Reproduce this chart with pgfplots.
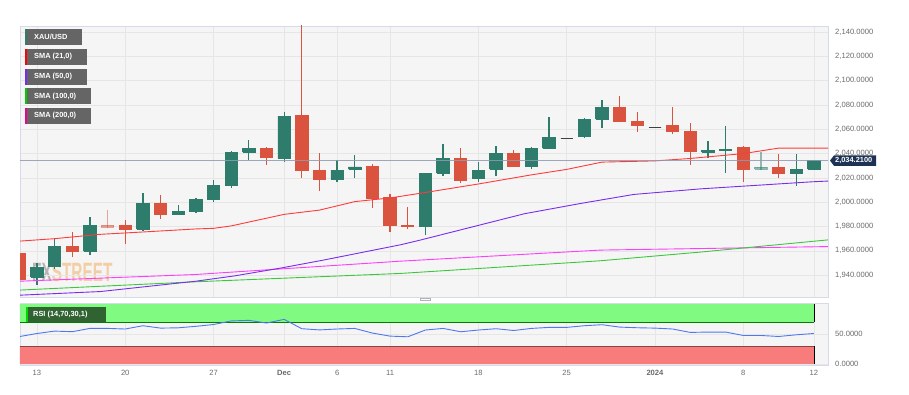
\documentclass[border=0pt]{standalone}
\usepackage{fontspec}
\setmainfont{Liberation Sans}
\usepackage{graphicx}
\usepackage{pgfplots}
\usepackage{pgfplotstable}
\pgfplotsset{compat=1.18}
\definecolor{up}{HTML}{2E7D6C}
\definecolor{dn}{HTML}{D9533F}
\definecolor{flat}{HTML}{404040}
\definecolor{bg}{HTML}{F5F5F5}
\definecolor{gridc}{HTML}{E6E6E6}
\definecolor{border}{HTML}{D5DBE8}
\definecolor{lab}{HTML}{6B6B6B}
\definecolor{smared}{HTML}{FF3B3B}
\definecolor{smapur}{HTML}{7A2BF0}
\definecolor{smagrn}{HTML}{3CC83C}
\definecolor{smamag}{HTML}{FF3CFF}
\definecolor{pricel}{HTML}{8F9AB0}
\definecolor{tagc}{HTML}{1E3354}
\definecolor{legbox}{HTML}{5E5E5E}
\definecolor{rsiblue}{HTML}{4F78F0}
\definecolor{bandg}{HTML}{80FA80}
\definecolor{bandr}{HTML}{F87C7C}
\definecolor{rsibox}{HTML}{2D5A2D}
\definecolor{wmgray}{HTML}{8C8C8C}
\definecolor{wmor}{HTML}{F2B56E}

\pgfplotstableread{
i o h l c a
-1 1958.1 1960.0 1935.0 1936.7 1
0 1938.4 1950.0 1931.8 1946.6 1
1 1947.4 1970.7 1945.0 1963.9 1
2 1963.9 1975.4 1955.0 1959.8 1
3 1959.8 1987.7 1956.5 1980.6 1
4 1981.0 1993.5 1978.5 1979.6 0.5
5 1980.6 1985.3 1965.5 1977.9 1
6 1977.9 2007.2 1976.5 1999.0 1
7 1999.0 2005.8 1986.3 1990.0 1
8 1990.0 1997.6 1989.5 1992.1 1
9 1992.1 2003.6 1991.0 2002.3 1
10 2002.5 2018.2 2000.3 2014.0 1
11 2014.0 2042.3 2011.3 2041.0 1
12 2041.2 2051.0 2035.0 2044.3 1
13 2044.3 2045.6 2031.0 2036.5 1
14 2036.0 2074.4 2033.3 2070.9 1
15 2071.7 2146.0 2019.6 2026.4 1
16 2026.4 2040.2 2009.4 2019.0 1
17 2019.0 2035.0 2016.8 2026.4 1
18 2027.0 2038.8 2019.6 2029.0 1
19 2029.1 2031.4 1994.9 2003.1 1
20 2004.0 2006.7 1975.7 1981.2 1
21 1981.2 1996.2 1977.6 1979.8 1
22 1979.8 2023.7 1972.9 2023.7 1
23 2023.7 2047.8 2021.5 2036.0 1
24 2036.0 2044.3 2015.5 2018.2 1
25 2019.6 2033.3 2016.8 2026.4 1
26 2027.0 2046.2 2021.5 2040.2 1
27 2040.2 2042.9 2029.5 2029.7 1
28 2029.1 2045.6 2027.2 2044.3 1
29 2044.3 2069.8 2044.0 2053.3 1
30 2052.8 2052.8 2052.8 2052.8 1
31 2054.4 2068.9 2053.0 2068.1 1
32 2068.4 2084.0 2060.7 2077.7 1
33 2077.7 2087.3 2065.7 2066.2 1
34 2066.2 2073.9 2058.0 2063.5 1
35 2061.5 2061.5 2061.5 2061.5 1
36 2063.5 2078.0 2055.8 2058.0 1
37 2058.0 2064.8 2030.5 2041.5 1
38 2041.2 2050.3 2036.0 2042.6 1
39 2042.9 2062.9 2023.7 2043.7 1
40 2045.0 2046.0 2016.8 2027.2 1
41 2027.2 2041.5 2026.2 2028.6 0.5
42 2028.3 2039.6 2020.1 2023.7 1
43 2023.7 2039.3 2013.5 2027.0 1
44 2027.2 2034.6 2026.4 2034.2 1
}\candles

\pgfplotstableread{
x y
-0.96 1968
1 1970
3.5 1973.5
6 1975.5
9 1978
10 1978.5
11 1980.5
14 1990
16 1993.5
18 2000.5
20 2003.5
22 2008
25 2015
28 2022.5
30 2027
32 2033
35 2034
37 2036
40 2040
42 2044.5
44.8 2044.5
}\smaA

\pgfplotstableread{
x y
-0.96 1923.5
3.6 1926.5
9 1935
11.2 1939.4
13.8 1945.8
16.2 1952.3
20.6 1965
21.7 1968.8
27.6 1990.5
30.8 1999
33.8 2006.4
37.6 2011
43.9 2016.8
44.8 2017.4
}\smaB

\pgfplotstableread{
x y
-0.96 1927.7
8.95 1934.5
20.6 1941.4
31.9 1951.8
37.6 1959
44.8 1969
}\smaC

\pgfplotstableread{
x y
-0.96 1935
8.95 1940.5
20.6 1951.5
31.9 1960.6
44.8 1963.5
}\smaD

\pgfplotstableread{
x y
-0.96 46
0 51
1 55
2 54
3 59.5
4 59.5
5 58.5
6 64
7 60
8 60.5
9 63
10 66
11 72
12 73
13 68.5
14 74.6
15 59
16 57
17 58.5
18 59.5
19 51.7
20 46.6
21 45.5
22 56.8
23 59.5
24 53.9
25 56.8
26 59
27 56
28 59.5
29 61.2
30 61.2
31 64
32 65.7
33 61.7
34 60.6
35 60
36 58.5
37 52.8
38 53.4
39 53.4
40 47.7
41 47.7
42 46
43 48.8
44 51
}\rsi

\begin{document}
\begin{tikzpicture}[x=1pt,y=1pt]
\path[use as bounding box, fill=white] (0,0) rectangle (909,394);
% plot backgrounds
\fill[bg] (20,97) rectangle (828,368);
\fill[bg] (20,29) rectangle (828,91);
% watermark
\node[anchor=base west, inner sep=0pt, opacity=0.6] at (32,112.5)
  {\scalebox{0.58}[1]{\fontsize{26.5}{26.5}\selectfont\bfseries\textcolor{wmgray}{FX}\textcolor{wmor}{STREET}}};

\begin{axis}[
  at={(20pt,97pt)}, anchor=south west,
  scale only axis, width=808pt, height=271pt,
  xmin=-0.96, xmax=44.8, ymin=1922, ymax=2145,
  axis line style={draw=border, line width=0.8pt},
  grid=major, major grid style={draw=gridc, line width=0.6pt},
  major tick length=0pt,
  xtick={0,5,10,14,17,20,25,30,35,40,44},
  xticklabel style={text opacity=0, opacity=0},
  ytick={1940,1960,...,2140},
  yticklabel pos=right,
  scaled y ticks=false,
  yticklabel style={anchor=west, inner sep=0pt, xshift=7pt, text=lab,
     font=\fontsize{7.6}{9}\selectfont,
     /pgf/number format/.cd, fixed, fixed zerofill, precision=4, 1000 sep={,}, assume math mode=true},
]
\pgfplotstablegetrowsof{\candles}
\pgfmathtruncatemacro{\nrows}{\pgfplotsretval-1}
\pgfplotsforeachungrouped \r in {0,...,\nrows}{%
  \pgfplotstablegetelem{\r}{i}\of\candles \let\ci=\pgfplotsretval
  \pgfplotstablegetelem{\r}{o}\of\candles \let\co=\pgfplotsretval
  \pgfplotstablegetelem{\r}{h}\of\candles \let\ch=\pgfplotsretval
  \pgfplotstablegetelem{\r}{l}\of\candles \let\cl=\pgfplotsretval
  \pgfplotstablegetelem{\r}{c}\of\candles \let\cc=\pgfplotsretval
  \pgfplotstablegetelem{\r}{a}\of\candles \let\ca=\pgfplotsretval
  \pgfmathsetmacro{\xa}{\ci-0.35}%
  \pgfmathsetmacro{\xb}{\ci+0.35}%
  \pgfmathsetmacro{\dir}{(\cc>\co) ? 1 : ((\cc<\co) ? -1 : 0)}%
  \ifdim\dir pt>0pt \def\ccol{up}\else\ifdim\dir pt<0pt \def\ccol{dn}\else\def\ccol{flat}\fi\fi
  \edef\tmp{%
    \noexpand\addplot[draw=\ccol, line width=1.3pt, opacity=\ca, forget plot] coordinates {(\ci,\cl) (\ci,\ch)};
    \noexpand\addplot[draw=\ccol, fill=\ccol, line width=0.9pt, opacity=\ca, forget plot] coordinates {(\xa,\co) (\xb,\co) (\xb,\cc) (\xa,\cc) (\xa,\co)};
  }\tmp
}
\addplot[smamag, line width=0.9pt] table {\smaD};
\addplot[smagrn, line width=0.9pt] table {\smaC};
\addplot[smapur, line width=0.9pt] table {\smaB};
\addplot[smared, line width=0.9pt] table {\smaA};
\addplot[pricel, line width=1.4pt, opacity=0.85] coordinates {(-0.96,2034.21) (44.8,2034.21)};
\end{axis}

\begin{axis}[
  at={(20pt,29pt)}, anchor=south west,
  scale only axis, width=808pt, height=62pt,
  xmin=-0.96, xmax=44.8, ymin=-1.7, ymax=102,
  axis line style={draw=border, line width=0.8pt},
  grid=major, major grid style={draw=gridc, line width=0.6pt},
  major tick length=0pt,
  xtick={0,5,10,14,17,20,25,30,35,40,44},
  xticklabels={13,20,27,\textbf{Dec},6,11,18,25,\textbf{2024},8,12},
  xticklabel style={anchor=north, inner sep=0pt, yshift=-5pt, text=lab, font=\fontsize{7.6}{9}\selectfont},
  ytick={0,50},
  yticklabel pos=right,
  yticklabel style={anchor=west, inner sep=0pt, xshift=7pt, text=lab,
     font=\fontsize{7.6}{9}\selectfont,
     /pgf/number format/.cd, fixed, fixed zerofill, precision=4, assume math mode=true},
]
\addplot[fill=bandg, draw=none] coordinates {(-0.96,70) (44,70) (44,100) (-0.96,100) (-0.96,70)};
\addplot[fill=bandr, draw=none] coordinates {(-0.96,0) (44,0) (44,30) (-0.96,30) (-0.96,0)};
\addplot[draw=black!50!green, line width=0.7pt] coordinates {(-0.96,70) (44,70)};
\addplot[draw=black!45!bandr, line width=0.7pt] coordinates {(-0.96,30) (44,30)};
\addplot[draw=black, line width=0.7pt] coordinates {(44,70) (44,100)};
\addplot[draw=black, line width=0.7pt] coordinates {(44,0) (44,30)};
\addplot[rsiblue, line width=0.9pt] table {\rsi};
\end{axis}

% separator handle
\fill[black!30] (420,93.3) rectangle (431,96.5);
\draw[white, line width=0.4pt] (421,94.9) -- (430,94.9);

% legend boxes
\begin{scope}[every node/.style={anchor=west, inner sep=0pt, text=white, font=\fontsize{7.4}{9}\selectfont\bfseries}]
\fill[legbox, opacity=0.95] (25,348.7) rectangle (82,364.7);
\fill[up] (25,348.7) rectangle (26.6,364.7);
\node at (34,356.7) {XAU/USD};
\fill[legbox, opacity=0.95] (25,329) rectangle (87.3,345);
\fill[red] (25,329) rectangle (26.6,345);
\node at (34,337) {SMA (21,0)};
\fill[legbox, opacity=0.95] (25,309.3) rectangle (87.3,325.3);
\fill[smapur] (25,309.3) rectangle (26.6,325.3);
\node at (34,317.3) {SMA (50,0)};
\fill[legbox, opacity=0.95] (25,289.7) rectangle (91.3,305.7);
\fill[green!80!black] (25,289.7) rectangle (26.6,305.7);
\node at (34,297.7) {SMA (100,0)};
\fill[legbox, opacity=0.95] (25,270) rectangle (91.3,286);
\fill[magenta] (25,270) rectangle (26.6,286);
\node at (34,278) {SMA (200,0)};
% RSI label
\fill[rsibox, opacity=0.95] (26,72.3) rectangle (106,87.3);
\fill[green!85!black] (26,72.3) rectangle (27.6,87.3);
\node at (33,79.8) {RSI (14,70,30,1)};
\end{scope}

% price tag
\fill[tagc] (830,233.4) -- (834,238.6) -- (876,238.6) -- (876,228.2) -- (834,228.2) -- cycle;
\node[anchor=west, inner sep=0pt, text=white, font=\fontsize{7.4}{9}\selectfont\bfseries] at (835,233.4) {2,034.2100};
\end{tikzpicture}
\end{document}
